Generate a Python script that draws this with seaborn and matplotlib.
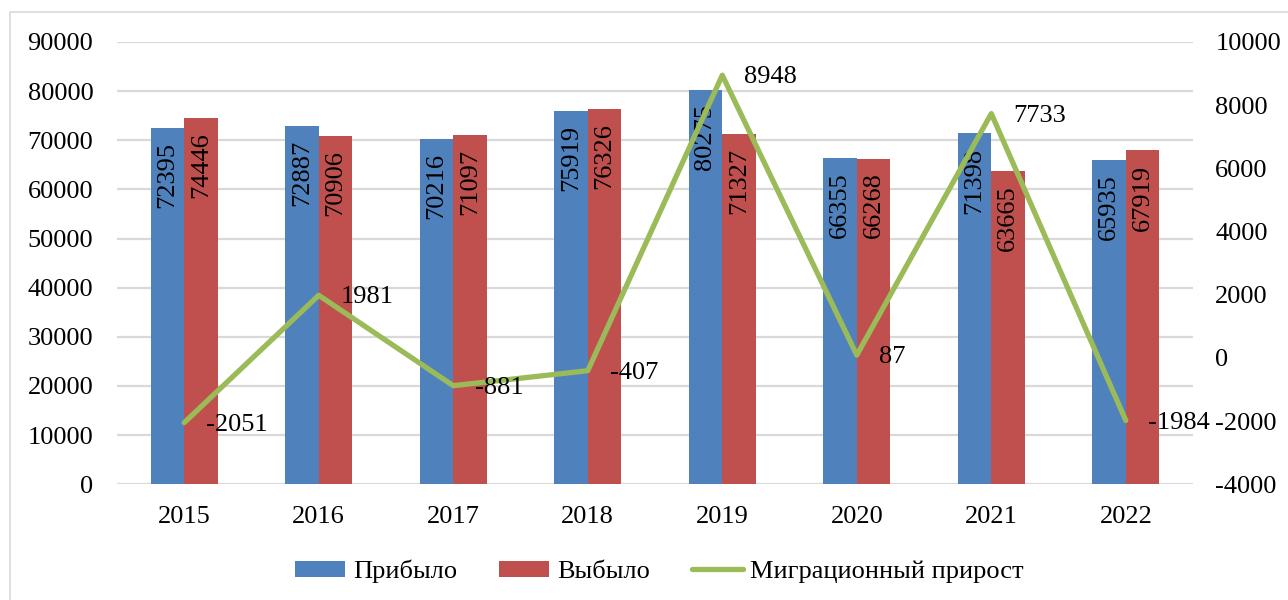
import numpy as np
import pandas as pd
import matplotlib.pyplot as plt
import seaborn as sns
from matplotlib.patches import Patch, Rectangle
from matplotlib.lines import Line2D

years = ["2015", "2016", "2017", "2018", "2019", "2020", "2021", "2022"]
arrived = [72395, 72887, 70216, 75919, 80275, 66355, 71398, 65935]
departed = [74446, 70906, 71097, 76326, 71327, 66268, 63665, 67919]
migration = [-2051, 1981, -881, -407, 8948, 87, 7733, -1984]
series_names = ["Прибыло", "Выбыло", "Миграционный прирост"]

blue = "#4F81BD"
red = "#C0504D"
green = "#9BBB59"

sns.set_theme(style="white")
plt.rcParams["font.family"] = ["Liberation Serif", "DejaVu Serif"]
plt.rcParams["text.color"] = "black"
plt.rcParams["axes.unicode_minus"] = False

df = pd.DataFrame({
    "year": years * 2,
    "value": arrived + departed,
    "series": [series_names[0]] * len(years) + [series_names[1]] * len(years),
})

fig = plt.figure(figsize=(12.88, 6), dpi=100)
ax = fig.add_axes([0.0908, 0.193, 0.8355, 0.737])

sns.barplot(data=df, x="year", y="value", hue="series", palette=[blue, red],
            width=0.5, saturation=1, ax=ax, edgecolor="none", legend=False)

ax.set_ylim(0, 90000)
ax.set_yticks(np.arange(0, 90001, 10000))
ax.set_xlim(-0.5, len(years) - 0.5)
ax.set_xlabel("")
ax.set_ylabel("")
ax.yaxis.grid(True, color="#D9D9D9", lw=1.6)
ax.set_axisbelow(True)
for s in ax.spines.values():
    s.set_visible(False)
ax.tick_params(axis="both", length=0, labelsize=19, colors="black")
ax.tick_params(axis="x", pad=16)
ax.tick_params(axis="y", pad=17)

# vertical value labels inside the bars
for container in ax.containers:
    for bar in container:
        h = bar.get_height()
        ax.annotate(f"{int(h)}", xy=(bar.get_x() + bar.get_width() / 2, h),
                    xytext=(0, -14), textcoords="offset pixels",
                    rotation=90, ha="center", va="top", fontsize=19, color="black")

ax2 = ax.twinx()
sns.lineplot(x=np.arange(len(years)), y=migration, color=green, lw=3.8, ax=ax2)
ax2.set_ylim(-4000, 10000)
ax2.set_yticks(np.arange(-4000, 10001, 2000))
for s in ax2.spines.values():
    s.set_visible(False)
ax2.tick_params(axis="y", length=0, labelsize=19, pad=16, colors="black")
ax2.grid(False)

for i, v in enumerate(migration):
    ax2.annotate(f"{v}", xy=(i, v), xytext=(22, -2), textcoords="offset pixels",
                 ha="left", va="center", fontsize=19, color="black")

handles = [
    Patch(facecolor=blue, edgecolor="none"),
    Patch(facecolor=red, edgecolor="none"),
    Line2D([], [], color=green, lw=3.8),
]
fig.legend(handles, series_names, loc="center", bbox_to_anchor=(0.512, 0.048),
           ncol=3, frameon=False, fontsize=19, handlelength=1.9,
           handleheight=0.55, handletextpad=0.3, columnspacing=1.6,
           labelcolor="black")

fig.patches.append(Rectangle((10 / 1288, -0.01), 1.0, 1 - 12 / 600 + 0.01,
                             transform=fig.transFigure, fill=False,
                             edgecolor="#D9D9D9", lw=1.2))

fig.savefig("out.png", dpi=100)
